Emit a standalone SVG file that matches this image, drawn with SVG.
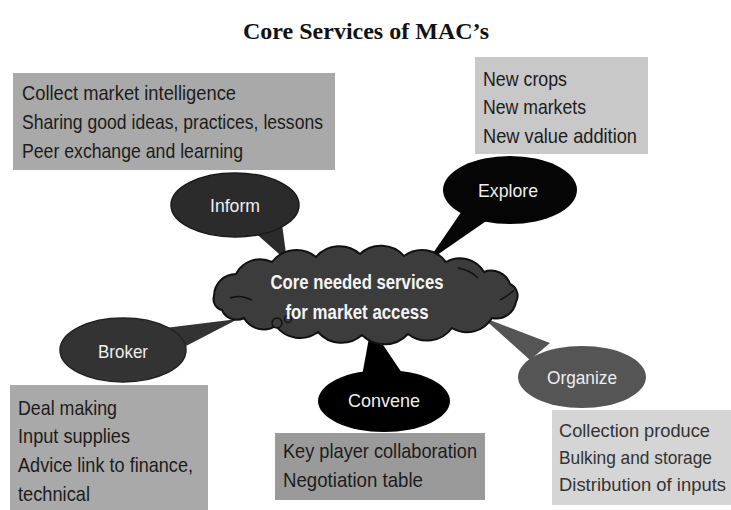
<svg xmlns="http://www.w3.org/2000/svg" width="731" height="510" viewBox="0 0 731 510">
  <style>
    .title { font-family: "Liberation Serif", "DejaVu Serif", serif; font-weight: bold; font-size: 23px; fill: #111; }
    .box-text { font-family: "Liberation Sans", Arial, sans-serif; font-size: 21px; fill: #1c1c1c; }
    .box-text.narrow { font-size: 18.5px; fill: #333333; }
    .bubble-text { font-family: "Liberation Sans", Arial, sans-serif; font-size: 19px; fill: #eeeeee; text-anchor: middle; }
    .cloud-text { font-family: "Liberation Sans", Arial, sans-serif; font-weight: bold; font-size: 21px; fill: #f4f4f4; text-anchor: middle; }
  </style>

  <rect width="731" height="510" fill="#ffffff"/>

  <text class="title" x="366" y="39" text-anchor="middle" textLength="246" lengthAdjust="spacingAndGlyphs">Core Services of MAC’s</text>

  <!-- callout tails linking each service bubble to the central cloud -->
  <g id="connectors">
    <polygon points="252,230 282,224 287,261" fill="#2b2b2b"/>
    <polygon points="464,208 492,217 427,262" fill="#050505"/>
    <polygon points="165,328 186,346 238,319" fill="#333333"/>
    <polygon points="362,376 404,376 371,327" fill="#000000"/>
    <polygon points="482,317 550,343 530,360" fill="#555555"/>
  </g>

  <!-- central cloud -->
  <g id="core">
    <path d="M214,296 A22,22 0 0 1 236,274 A27,27 0 0 1 272,262 A31,31 0 0 1 316,257 A31,31 0 0 1 360,254 A31,31 0 0 1 404,256 A30,30 0 0 1 446,262 A28,28 0 0 1 484,272 A20,20 0 0 1 510,284 A13,13 0 0 1 516,302 A20,20 0 0 1 492,318 A29,29 0 0 1 452,328 A31,31 0 0 1 408,334 A32,32 0 0 1 362,335 A31,31 0 0 1 318,332 A30,30 0 0 1 276,326 A23,23 0 0 1 244,318 A16,16 0 0 1 222,310 A11,11 0 0 1 214,296 Z" fill="#3c3c3c" stroke="#111111" stroke-width="2"/>
    <path d="M230,298 Q240,294 252,300" fill="none" stroke="#111" stroke-width="1.5"/>
    <path d="M500,300 Q508,296 514,290" fill="none" stroke="#111" stroke-width="1.5"/>
    <path d="M458,268 Q470,270 478,278" fill="none" stroke="#111" stroke-width="1.5"/>
    <circle cx="277" cy="323" r="5" fill="#3c3c3c" stroke="#111" stroke-width="1.5"/>
    <circle cx="288" cy="319" r="3.5" fill="#3c3c3c" stroke="#111" stroke-width="1.3"/>
    <text class="cloud-text" x="357" y="289" textLength="173" lengthAdjust="spacingAndGlyphs">Core needed services</text>
    <text class="cloud-text" x="357" y="319" textLength="143" lengthAdjust="spacingAndGlyphs">for market access</text>
  </g>

  <!-- Inform -->
  <g id="inform">
    <rect x="13" y="73" width="322" height="97" fill="#a9a9a9"/>
    <text class="box-text" x="22" y="100" textLength="214" lengthAdjust="spacingAndGlyphs">Collect market intelligence</text>
    <text class="box-text" x="22" y="129" textLength="301" lengthAdjust="spacingAndGlyphs">Sharing good ideas, practices, lessons</text>
    <text class="box-text" x="22" y="158" textLength="221" lengthAdjust="spacingAndGlyphs">Peer exchange and learning</text>
    <ellipse cx="235" cy="205" rx="64" ry="32" fill="#2b2b2b" stroke="#1a1a1a" stroke-width="1.5"/>
    <text class="bubble-text" x="235" y="212" textLength="50" lengthAdjust="spacingAndGlyphs">Inform</text>
  </g>

  <!-- Explore -->
  <g id="explore">
    <rect x="475" y="57" width="173" height="97" fill="#c8c8c8"/>
    <text class="box-text" x="483" y="86" textLength="84" lengthAdjust="spacingAndGlyphs">New crops</text>
    <text class="box-text" x="483" y="114" textLength="103" lengthAdjust="spacingAndGlyphs">New markets</text>
    <text class="box-text" x="483" y="143" textLength="154" lengthAdjust="spacingAndGlyphs">New value addition</text>
    <ellipse cx="510" cy="190" rx="67" ry="34" fill="#050505"/>
    <text class="bubble-text" x="508" y="197" textLength="60" lengthAdjust="spacingAndGlyphs">Explore</text>
  </g>

  <!-- Broker -->
  <g id="broker">
    <ellipse cx="123" cy="350" rx="63" ry="32" fill="#333333" stroke="#222" stroke-width="1.5"/>
    <text class="bubble-text" x="123" y="358" textLength="50" lengthAdjust="spacingAndGlyphs">Broker</text>
    <rect x="10" y="385" width="198" height="125" fill="#a9a9a9"/>
    <text class="box-text" x="18" y="415" textLength="99" lengthAdjust="spacingAndGlyphs">Deal making</text>
    <text class="box-text" x="18" y="443" textLength="112" lengthAdjust="spacingAndGlyphs">Input supplies</text>
    <text class="box-text" x="18" y="472" textLength="175" lengthAdjust="spacingAndGlyphs">Advice link to finance,</text>
    <text class="box-text" x="18" y="501" textLength="72" lengthAdjust="spacingAndGlyphs">technical</text>
  </g>

  <!-- Convene -->
  <g id="convene">
    <ellipse cx="384" cy="401" rx="66" ry="31" fill="#000000"/>
    <text class="bubble-text" x="384" y="407" textLength="72" lengthAdjust="spacingAndGlyphs">Convene</text>
    <rect x="275" y="433" width="210" height="67" fill="#9a9a9a"/>
    <text class="box-text" x="283" y="458" textLength="194" lengthAdjust="spacingAndGlyphs">Key player collaboration</text>
    <text class="box-text" x="283" y="487" textLength="140" lengthAdjust="spacingAndGlyphs">Negotiation table</text>
  </g>

  <!-- Organize -->
  <g id="organize">
    <ellipse cx="582" cy="377" rx="64" ry="31" fill="#555555"/>
    <text class="bubble-text" x="582" y="384" textLength="70" lengthAdjust="spacingAndGlyphs">Organize</text>
    <rect x="552" y="410" width="179" height="95" fill="#d5d5d5"/>
    <text class="box-text narrow" x="559" y="437" textLength="151" lengthAdjust="spacingAndGlyphs">Collection produce</text>
    <text class="box-text narrow" x="559" y="464" textLength="153" lengthAdjust="spacingAndGlyphs">Bulking and storage</text>
    <text class="box-text narrow" x="559" y="491" textLength="167" lengthAdjust="spacingAndGlyphs">Distribution of inputs</text>
  </g>
</svg>
